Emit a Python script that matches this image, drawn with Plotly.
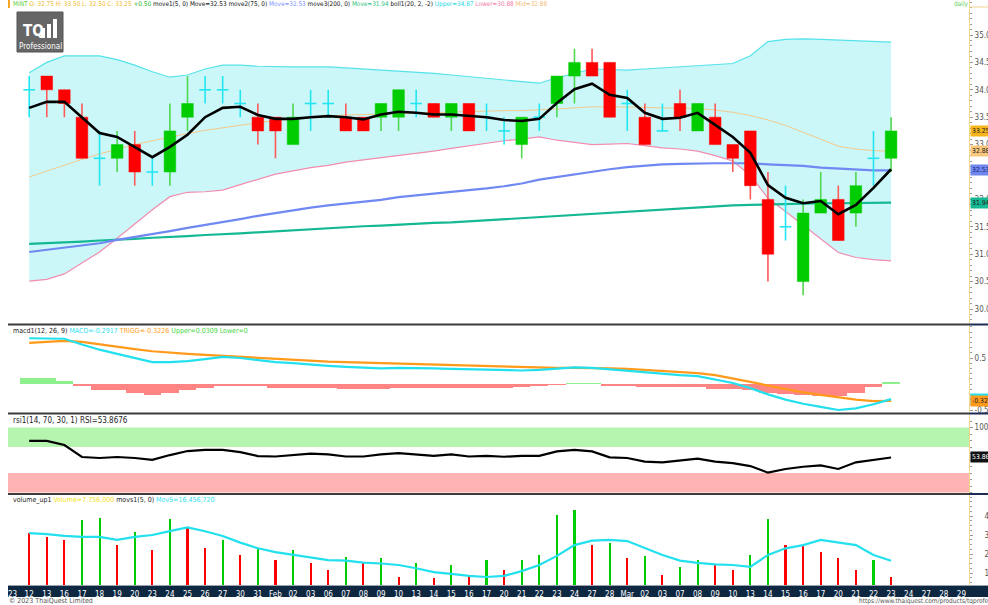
import plotly.graph_objects as go

W, H = 988, 605

# ---------------- data ----------------
labels = ["'23", "12", "13", "16", "17", "18", "19", "20", "23", "24", "25", "26", "27", "30", "31",
          "Feb", "02", "03", "06", "07", "08", "09", "10", "13", "14", "15", "16", "17", "20", "21",
          "22", "23", "24", "27", "28", "Mar", "02", "03", "07", "08", "09", "10", "13", "14", "15",
          "16", "17", "20", "21", "22", "23", "24", "27", "28", "29"]

opens = [34.0, 34.25, 34.0, 33.5, 32.75, 32.75, 33.0, 32.5, 32.5, 33.5,
         34.0, 34.0, 33.75, 33.5, 33.5, 33.0, 33.75, 33.75, 33.5, 33.5,
         33.5, 33.5, 33.75, 33.75, 33.5, 33.75, 33.5, 33.25, 33.0, 33.5,
         33.75, 34.25, 34.5, 34.5, 33.75, 33.5, 33.25, 33.75, 33.25, 33.5,
         33.0, 33.25, 32.0, 31.5, 30.5, 31.75, 32.0, 31.75, 32.75, 32.75]
highs = [34.25, 34.25, 34.0, 33.75, 33.25, 33.25, 33.25, 32.75, 33.75, 34.25,
         34.25, 34.25, 34.0, 33.75, 33.5, 33.75, 34.0, 34.0, 33.75, 33.5,
         33.75, 34.0, 34.0, 33.75, 33.75, 33.75, 33.75, 33.5, 33.5, 33.75,
         34.25, 34.75, 34.75, 34.5, 34.0, 33.75, 33.75, 34.0, 33.75, 33.75,
         33.0, 33.25, 32.5, 32.25, 32.0, 32.5, 32.25, 32.5, 33.25, 33.5]
lows = [33.5, 33.5, 33.5, 32.75, 32.25, 32.5, 32.25, 32.25, 32.25, 33.25,
        33.75, 33.75, 33.5, 33.0, 32.75, 33.0, 33.25, 33.5, 33.25, 33.25,
        33.25, 33.25, 33.5, 33.5, 33.25, 33.25, 33.25, 33.0, 32.75, 33.25,
        33.5, 33.75, 34.25, 33.5, 33.25, 33.0, 33.25, 33.25, 33.25, 33.0,
        32.5, 32.0, 30.5, 31.25, 30.25, 31.75, 31.25, 31.5, 32.25, 32.5]
closes = [34.0, 34.0, 33.75, 32.75, 32.75, 33.0, 32.5, 32.5, 33.25, 33.75,
          34.0, 34.0, 33.75, 33.25, 33.25, 33.5, 33.75, 33.75, 33.25, 33.25,
          33.75, 34.0, 33.75, 33.5, 33.75, 33.25, 33.5, 33.25, 33.5, 33.5,
          34.25, 34.5, 34.25, 33.5, 33.75, 33.0, 33.25, 33.5, 33.75, 33.0,
          32.75, 32.25, 31.0, 31.5, 31.75, 32.0, 31.25, 32.25, 32.75, 33.25]

ma5 = [33.67, 33.78, 33.78, 33.50, 33.21, 33.14, 32.96, 32.77, 32.96, 33.18,
       33.50, 33.67, 33.69, 33.54, 33.47, 33.47, 33.50, 33.52, 33.50, 33.46,
       33.55, 33.60, 33.58, 33.55, 33.55, 33.52, 33.50, 33.45, 33.43, 33.47,
       33.76, 34.01, 34.11, 33.91, 33.85, 33.58, 33.47, 33.49, 33.58, 33.36,
       33.14, 32.85, 32.26, 32.03, 31.93, 31.97, 31.73, 31.90, 32.21, 32.55]
ma75 = [31.04, 31.08, 31.12, 31.16, 31.20, 31.26, 31.31, 31.37, 31.42, 31.48,
        31.53, 31.59, 31.64, 31.70, 31.75, 31.81, 31.85, 31.89, 31.92, 31.96,
        31.99, 32.04, 32.07, 32.10, 32.14, 32.17, 32.20, 32.24, 32.29, 32.36,
        32.41, 32.46, 32.51, 32.55, 32.59, 32.62, 32.64, 32.65, 32.66, 32.66,
        32.66, 32.66, 32.64, 32.63, 32.61, 32.58, 32.56, 32.54, 32.53, 32.53]
ma200 = [31.19, 31.20, 31.22, 31.23, 31.25, 31.26, 31.28, 31.30, 31.31, 31.33,
         31.35, 31.36, 31.38, 31.40, 31.42, 31.44, 31.46, 31.48, 31.49, 31.51,
         31.52, 31.54, 31.55, 31.57, 31.58, 31.60, 31.61, 31.63, 31.65, 31.67,
         31.69, 31.71, 31.73, 31.75, 31.77, 31.79, 31.81, 31.83, 31.85, 31.87,
         31.89, 31.90, 31.91, 31.92, 31.93, 31.93, 31.93, 31.93, 31.94, 31.94]
boll_up = [34.31, 34.50, 34.62, 34.62, 34.62, 34.55, 34.45, 34.33, 34.23, 34.27,
           34.38, 34.45, 34.45, 34.43, 34.42, 34.42, 34.42, 34.42, 34.40, 34.38,
           34.36, 34.35, 34.33, 34.30, 34.27, 34.24, 34.20, 34.17, 34.14, 34.12,
           34.22, 34.30, 34.38, 34.37, 34.36, 34.38, 34.40, 34.42, 34.44, 34.46,
           34.48, 34.62, 34.88, 34.92, 34.93, 34.92, 34.91, 34.90, 34.88, 34.87]
boll_mid = [32.41, 32.52, 32.63, 32.73, 32.83, 32.92, 33.00, 33.07, 33.14, 33.20,
            33.26, 33.31, 33.36, 33.40, 33.44, 33.47, 33.50, 33.52, 33.54, 33.55,
            33.56, 33.57, 33.58, 33.59, 33.60, 33.61, 33.61, 33.62, 33.62, 33.63,
            33.65, 33.67, 33.69, 33.69, 33.69, 33.68, 33.67, 33.67, 33.66, 33.63,
            33.59, 33.53, 33.45, 33.35, 33.23, 33.10, 32.97, 32.92, 32.89, 32.88]
boll_lo = [30.51, 30.54, 30.64, 30.84, 31.04, 31.29, 31.55, 31.81, 32.05, 32.13,
           32.14, 32.17, 32.27, 32.37, 32.46, 32.52, 32.58, 32.62, 32.68, 32.72,
           32.76, 32.79, 32.83, 32.88, 32.93, 32.98, 33.02, 33.07, 33.10, 33.14,
           33.08, 33.04, 33.00, 33.01, 33.02, 32.98, 32.94, 32.92, 32.88, 32.80,
           32.70, 32.44, 32.02, 31.78, 31.53, 31.28, 31.03, 30.94, 30.90, 30.88]

macd = [0.88, 0.88, 0.87, 0.76, 0.66, 0.58, 0.50, 0.42, 0.42, 0.44,
        0.48, 0.52, 0.50, 0.46, 0.42, 0.40, 0.37, 0.35, 0.33, 0.31,
        0.30, 0.31, 0.31, 0.30, 0.29, 0.28, 0.27, 0.26, 0.26, 0.27,
        0.30, 0.32, 0.31, 0.28, 0.25, 0.22, 0.19, 0.17, 0.15, 0.08,
        0.02, -0.08, -0.20, -0.30, -0.38, -0.44, -0.50, -0.47, -0.39, -0.2917]
signal = [0.79, 0.81, 0.83, 0.81, 0.76, 0.71, 0.67, 0.63, 0.60, 0.58,
          0.56, 0.54, 0.52, 0.50, 0.48, 0.46, 0.45, 0.43, 0.42, 0.41,
          0.40, 0.39, 0.38, 0.37, 0.36, 0.35, 0.34, 0.33, 0.32, 0.31,
          0.31, 0.31, 0.31, 0.30, 0.29, 0.27, 0.25, 0.23, 0.21, 0.17,
          0.11, 0.04, -0.03, -0.10, -0.16, -0.21, -0.26, -0.30, -0.33, -0.3226]
hist = [0.115, 0.115, 0.06, -0.03, -0.115, -0.115, -0.17, -0.21, -0.17, -0.115,
        -0.08, -0.02, -0.02, -0.04, -0.08, -0.08, -0.08, -0.08, -0.09, -0.10,
        -0.10, -0.08, -0.07, -0.07, -0.07, -0.07, -0.07, -0.07, -0.06, -0.04,
        -0.01, 0.01, 0.005, -0.02, -0.04, -0.05, -0.06, -0.06, -0.06, -0.09,
        -0.10, -0.12, -0.17, -0.20, -0.22, -0.23, -0.24, -0.17, -0.06, 0.0309]

rsi = [79.3, 79.3, 73.1, 54.6, 53.1, 54.6, 53.1, 50.1, 57.6, 63.8,
       65.5, 65.5, 62.1, 56.1, 55.4, 57.6, 59.9, 58.7, 55.4, 55.4,
       58.7, 60.5, 58.7, 56.5, 58.7, 55.4, 56.5, 55.0, 56.5, 56.5,
       63.2, 65.5, 63.2, 54.0, 53.1, 47.5, 46.4, 49.7, 52.0, 47.5,
       45.2, 40.7, 30.5, 36.2, 39.6, 41.8, 36.2, 46.4, 50.5, 53.8676]

# volume in millions of shares
volume = [31.0, 29.0, 27.4, 37.9, 39.0, 24.7, 31.6, 22.1, 38.4, 33.7,
          23.2, 27.4, 19.5, 23.2, 16.8, 22.1, 15.3, 11.6, 18.4, 15.3,
          17.9, 7.9, 15.3, 7.4, 14.2, 8.9, 16.8, 11.6, 16.8, 19.5,
          40.5, 43.2, 24.7, 26.0, 17.9, 19.0, 8.9, 13.2, 16.8, 14.2,
          11.6, 19.5, 38.4, 24.7, 24.0, 21.0, 17.9, 11.6, 16.8, 7.756]
vol_up = ["r", "r", "r", "g", "g", "r", "g", "r", "g", "r",
          "r", "g", "r", "g", "r", "g", "r", "r", "g", "r",
          "g", "r", "g", "r", "g", "r", "g", "r", "g", "g",
          "g", "g", "r", "g", "r", "g", "r", "g", "g", "r",
          "r", "g", "g", "r", "r", "r", "r", "r", "g", "r"]
movs = [31.0, 30.5, 29.5, 29.0, 29.0, 27.4, 29.0, 30.0, 32.0, 34.0,
        32.0, 29.5, 26.0, 23.0, 21.0, 19.5, 18.0, 16.8, 16.5, 15.5,
        15.0, 14.2, 12.5, 10.5, 9.5, 8.5, 7.9, 8.5, 11.0, 14.2,
        19.0, 24.7, 27.0, 27.4, 26.8, 23.0, 19.5, 16.5, 15.3, 14.5,
        14.2, 13.2, 19.5, 23.0, 24.7, 27.4, 26.0, 24.7, 19.5, 16.457]

price_ticks = [30.0, 30.5, 31.0, 31.5, 32.0, 32.5, 33.0, 33.5, 34.0, 34.5, 35.0]
vol_ticks = [10, 20, 30, 40]

# ---------------- geometry helpers ----------------
def px(x):
    return x / W

def py(y):
    return 1 - y / H

X0, X1 = 8, 969
xr = [-0.205, 54.43]
xs = list(range(1, 51))

GREEN = "#00cc00"
RED = "#ff0000"
DOJI = "#22e6f2"
HALF = 0.33

fig = go.Figure()

# Bollinger band fill
fig.add_trace(go.Scatter(x=xs, y=boll_lo, mode="lines", line=dict(color="#f28cb1", width=1.2),
                         hoverinfo="skip", showlegend=False))
fig.add_trace(go.Scatter(x=xs, y=boll_up, mode="lines", line=dict(color="#55e3ea", width=1.2),
                         fill="tonexty", fillcolor="#cbf7f8", hoverinfo="skip", showlegend=False))
fig.add_trace(go.Scatter(x=xs, y=boll_mid, mode="lines", line=dict(color="#f5c98a", width=1),
                         showlegend=False))
fig.add_trace(go.Scatter(x=xs, y=ma200, mode="lines", line=dict(color="#14b892", width=2.2),
                         showlegend=False))
fig.add_trace(go.Scatter(x=xs, y=ma75, mode="lines", line=dict(color="#6f88f2", width=2.2),
                         showlegend=False))

# candles
groups = {"g": ([], GREEN, "#4fd84f"), "r": ([], RED, "#ff5a5a"), "d": ([], DOJI, DOJI)}
for i, (o, h, l, c) in enumerate(zip(opens, highs, lows, closes)):
    k = "d" if o == c else ("g" if c > o else "r")
    groups[k][0].append(i)

for k, (ids, col, wcol) in groups.items():
    wx, wy = [], []
    for i in ids:
        wx += [xs[i], xs[i], None]
        wy += [lows[i], highs[i], None]
    fig.add_trace(go.Scatter(x=wx, y=wy, mode="lines", line=dict(color=wcol, width=1.6),
                             hoverinfo="skip", showlegend=False))
    if k == "d":
        hx, hy = [], []
        for i in ids:
            hx += [xs[i] - HALF, xs[i] + HALF, None]
            hy += [opens[i], opens[i], None]
        fig.add_trace(go.Scatter(x=hx, y=hy, mode="lines", line=dict(color=col, width=1.6),
                                 hoverinfo="skip", showlegend=False))
    else:
        bx, by = [], []
        for i in ids:
            bx += [xs[i] - HALF, xs[i] + HALF, xs[i] + HALF, xs[i] - HALF, xs[i] - HALF, None]
            by += [opens[i], opens[i], closes[i], closes[i], opens[i], None]
        fig.add_trace(go.Scatter(x=bx, y=by, mode="lines", fill="toself", fillcolor=col,
                                 line=dict(color=col, width=0.5), hoverinfo="skip", showlegend=False))

fig.add_trace(go.Scatter(x=xs, y=ma5, mode="lines", line=dict(color="#000000", width=2.6),
                         showlegend=False))

# MACD
fig.add_trace(go.Bar(x=xs, y=hist, width=1.0, yaxis="y2",
                     marker=dict(color=["#8df08d" if v >= 0 else "#ff8585" for v in hist],
                                 line=dict(width=0)), showlegend=False))
fig.add_trace(go.Scatter(x=xs, y=signal, yaxis="y2", mode="lines",
                         line=dict(color="#ff9a1a", width=2.2), showlegend=False))
fig.add_trace(go.Scatter(x=xs, y=macd, yaxis="y2", mode="lines",
                         line=dict(color="#22e0ee", width=2.2), showlegend=False))

# RSI
fig.add_trace(go.Scatter(x=xs, y=rsi, yaxis="y3", mode="lines",
                         line=dict(color="#000000", width=2.2), showlegend=False))

# Volume
fig.add_trace(go.Bar(x=xs, y=volume, yaxis="y4", width=0.12,
                     marker=dict(color=[GREEN if c == "g" else RED for c in vol_up],
                                 line=dict(width=0)), showlegend=False))
fig.add_trace(go.Scatter(x=xs, y=movs, yaxis="y4", mode="lines",
                         line=dict(color="#22e0ee", width=2.2), showlegend=False))

# ---------------- axes ----------------
P_TOP, P_BOT = 0, 323
M_TOP, M_BOT = 326, 412
R_TOP, R_BOT = 415, 493
V_TOP, V_BOT = 495, 585

p_hi = 35.0 + (35 - P_TOP) / 54.8
p_lo = 35.0 - (P_BOT - 35) / 54.8
m_hi = (384 - M_TOP) / 52.0
m_lo = (384 - M_BOT) / 52.0
r_hi = 100 + (427.5 - R_TOP) / 0.65
r_lo = 100 - (R_BOT - 427.5) / 0.65
v_hi = (592 - V_TOP) / 1.9
v_lo = (592 - V_BOT) / 1.9

FONT_N = "DejaVu Sans Condensed, DejaVu Sans, sans-serif"
tickfont = dict(family=FONT_N, size=8, color="#555555")
common_r = dict(side="right", anchor="x", showgrid=False, zeroline=False, showline=True,
                linecolor="#f2d68a", linewidth=1, ticks="outside", ticklen=3, tickcolor="#999999",
                tickfont=tickfont, fixedrange=True)

fig.update_layout(
    width=W, height=H, margin=dict(l=0, r=0, t=0, b=0, autoexpand=False),
    paper_bgcolor="white", plot_bgcolor="white", barmode="overlay", bargap=0,
    showlegend=False,
    xaxis=dict(domain=[px(X0), px(X1)], range=xr, anchor="y4", showgrid=False, zeroline=False,
               tickmode="array", tickvals=list(range(len(labels))), ticktext=labels,
               ticks="", tickfont=dict(family=FONT_N, size=8, color="white"),
               ticklabelstandoff=3, showline=False, automargin=False),
    yaxis=dict(domain=[py(P_BOT), py(P_TOP)], range=[p_lo, p_hi], tickmode="array",
               tickvals=price_ticks, ticktext=[f"{t:.1f}" for t in price_ticks],
               minor=dict(dtick=0.1, ticklen=2, ticks="outside", tickcolor="#999999"), **common_r),
    yaxis2=dict(domain=[py(M_BOT), py(M_TOP)], range=[m_lo, m_hi], tickmode="array",
                tickvals=[-0.5, 0.5], ticktext=["-0.5", "0.5"],
                minor=dict(dtick=0.1, ticklen=2, ticks="outside", tickcolor="#999999"), **common_r),
    yaxis3=dict(domain=[py(R_BOT), py(R_TOP)], range=[r_lo, r_hi], tickmode="array",
                tickvals=[100], ticktext=["100.0"],
                minor=dict(dtick=10, ticklen=2, ticks="outside", tickcolor="#999999"), **common_r),
    yaxis4=dict(domain=[py(V_BOT), py(V_TOP)], range=[v_lo, v_hi], tickmode="array",
                tickvals=vol_ticks, ticktext=[f"{t * 1000000:,.0f}" for t in vol_ticks],
                ticklabelstandoff=10,
                minor=dict(dtick=2.5, ticklen=2, ticks="outside", tickcolor="#999999"), **common_r),
)

for name, dom, rng, dt in [("yaxis5", [py(P_BOT), py(P_TOP)], [p_lo, p_hi], 0.1),
                           ("yaxis6", [py(M_BOT), py(M_TOP)], [m_lo, m_hi], 0.1),
                           ("yaxis7", [py(R_BOT), py(R_TOP)], [r_lo, r_hi], 10),
                           ("yaxis8", [py(V_BOT), py(V_TOP)], [v_lo, v_hi], 2.5)]:
    fig.layout[name] = dict(domain=dom, range=rng, anchor="x", side="left",
                            showgrid=False, zeroline=False, showticklabels=False, showline=True,
                            linecolor="#222222", linewidth=1, ticks="inside", ticklen=2,
                            tickcolor="#555555", dtick=dt, fixedrange=True)

# RSI zones
fig.add_shape(type="rect", xref="x", yref="y3", x0=xr[0], x1=xr[1], y0=70, y1=100,
              fillcolor="#b6f5b0", line=dict(width=0), layer="below")
fig.add_shape(type="rect", xref="x", yref="y3", x0=xr[0], x1=xr[1], y0=0, y1=30,
              fillcolor="#ffb4b4", line=dict(width=0), layer="below")

for ysep in [324.5, 413.5, 494]:
    fig.add_shape(type="line", xref="paper", yref="paper", x0=px(X0), x1=px(X1), y0=py(ysep), y1=py(ysep),
                  line=dict(color="#3c3c3c", width=2))
    fig.add_shape(type="line", xref="paper", yref="paper", x0=px(X1), x1=1, y0=py(ysep), y1=py(ysep),
                  line=dict(color="#1d2b55", width=2))

# top border of the right scale and small marker at the top-left
fig.add_shape(type="line", xref="paper", yref="paper", x0=px(X1), x1=1, y0=py(7), y1=py(7),
              line=dict(color="#f2d68a", width=1))
fig.add_shape(type="line", xref="paper", yref="paper", x0=px(9), x1=px(9), y0=py(0), y1=py(8),
              line=dict(color="#f5a623", width=2))

fig.add_shape(type="rect", xref="paper", yref="paper", x0=px(X0), x1=1, y0=py(597), y1=py(586),
              fillcolor="#0e2842", line=dict(width=0), layer="below")
fig.add_shape(type="line", xref="paper", yref="paper", x0=px(X0), x1=1, y0=py(585.5), y1=py(585.5),
              line=dict(color="#9aa3ad", width=1))

# logo
fig.add_shape(type="rect", xref="paper", yref="paper", x0=px(17), x1=px(63), y0=py(52), y1=py(12),
              fillcolor="#666666", line=dict(color="#555555", width=1))
for bx, btop in [(41, 28), (47, 24), (53, 19)]:
    fig.add_shape(type="rect", xref="paper", yref="paper", x0=px(bx), x1=px(bx + 4), y0=py(38), y1=py(btop),
                  fillcolor="white", line=dict(width=0))


def ann(text, x, y, size=9, color="#222", xanchor="left", yanchor="middle", bold=False, bg=None, family=FONT_N):
    fig.add_annotation(text=f"<b>{text}</b>" if bold else text, x=px(x), y=py(y), xref="paper", yref="paper",
                       showarrow=False, xanchor=xanchor, yanchor=yanchor,
                       font=dict(family=family, size=size, color=color),
                       bgcolor=bg, borderpad=0)

ann("TQ", 22, 31, size=15, color="white", bold=True)
ann("Professional", 40, 46, size=8, color="white", xanchor="center")

def sp(t, c):
    return f"<span style='color:{c}'>{t}</span>"

hdr = (sp("MINT", "#5fcf3a") + " " + sp("O: 32.75 H: 33.50 L: 32.50 C: 33.25", "#eebb2c") + " " +
       sp("+0.50", "#1fb81f") + " " + sp("move1(5, 0) Move=32.53", "#111") + " " +
       sp("move2(75, 0)", "#111") + " " + sp("Move=32.53", "#7d93ff") + " " +
       sp("move3(200, 0)", "#111") + " " + sp("Move=31.94", "#2fc480") + " " +
       sp("boll1(20, 2, -2)", "#111") + " " + sp("Upper=34.87", "#2ad8e4") + " " +
       sp("Lower=30.88", "#f27aa6") + " " + sp("Mid=32.88", "#f3bd76"))
ann(hdr, 12, 4, size=6.4)
ann("daily", 953, 4, size=6.5, color="#5fd35f")

ann(sp("macd1(12, 26, 9)", "#222") + " " + sp("MACD=-0.2917", "#2fdfee") + " " +
    sp("TRIGG=-0.3226", "#ffa024") + " " + sp("Upper=0.0309 Lower=0", "#46d646"), 12, 331, size=7)
ann("rsi1(14, 70, 30, 1) RSI=53.8676", 12, 420, size=8, color="#222")
ann(sp("volume_up1", "#222") + " " + sp("Volume=7,756,000", "#f2e21a") + " " +
    sp("movs1(5, 0)", "#222") + " " + sp("MovS=16,456,720", "#2fdfee"), 12, 500, size=7)

ann("© 2023 ThaiQuest Limited", 8, 601, size=7, color="#555")
ann("https://www.thaiquest.com/products/tqprofessional", 858, 601, size=6.5, color="#555")

def flag(text, yval, yref, bg, col="#222"):
    fig.add_annotation(text=text, x=px(969.5), y=yval, xref="paper", yref=yref, showarrow=False,
                       xanchor="left", yanchor="middle", bgcolor=bg, borderpad=1,
                       font=dict(family=FONT_N, size=6.8, color=col))

flag("33.25", closes[-1], "y", "#f7b51c")
flag("32.88", boll_mid[-1], "y", "#f8c77e")
flag("32.53", ma75[-1], "y", "#6e86ee", "#1b2a7a")
flag("31.94", ma200[-1], "y", "#14b892")
flag("-0.2917", macd[-1], "y2", "#22e0ee")
flag("-0.3226", signal[-1], "y2", "#ff9a1a")
flag("53.8676", rsi[-1], "y3", "#111111", "white")

fig.write_html("out.html", config={"responsive": False, "displayModeBar": False},
               post_script="document.body.style.margin='0';document.body.style.overflow='hidden';")
